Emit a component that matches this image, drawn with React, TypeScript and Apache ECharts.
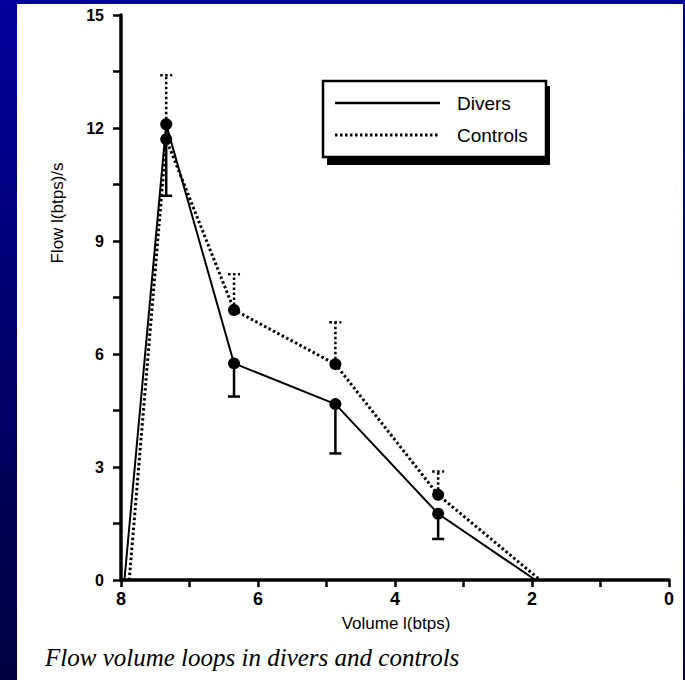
import React, { useEffect, useRef } from "react";
import * as echarts from "echarts";

// Volume (l btps) and Flow (l btps / s)
const diversVolume = [7.95, 7.34, 6.35, 4.87, 3.37, 1.95];
const diversFlow = [0, 12.1, 5.75, 4.67, 1.76, 0];
const controlsVolume = [7.88, 7.34, 6.35, 4.87, 3.37, 1.88];
const controlsFlow = [0, 11.7, 7.17, 5.73, 2.26, 0];

// error bars: [volume, mean, whisker end]
const diversErrVolume = [7.34, 6.35, 4.87, 3.37];
const diversErrMean = [12.1, 5.75, 4.67, 1.76];
const diversErrEnd = [10.2, 4.87, 3.36, 1.09];
const controlsErrVolume = [7.34, 6.35, 4.87, 3.37];
const controlsErrMean = [11.7, 7.17, 5.73, 2.26];
const controlsErrEnd = [13.4, 8.12, 6.84, 2.88];

const yTickLabels = [0, 3, 6, 9, 12, 15];
const xTickLabels = [0, 2, 4, 6, 8];

const seriesNames = ["Divers", "Controls"];

export default function App() {
  const ref = useRef<HTMLDivElement>(null);

  useEffect(() => {
    const chart = echarts.init(ref.current!, null, { renderer: "svg" });

    const errRender = (dash: number[] | null) => (params: any, api: any) => {
      const x = api.value(0);
      const p0 = api.coord([x, api.value(1)]);
      const p1 = api.coord([x, api.value(2)]);
      const style: any = { stroke: "#000", lineWidth: 2.5 };
      if (dash) style.lineDash = dash;
      return {
        type: "group",
        children: [
          { type: "line", shape: { x1: p0[0], y1: p0[1], x2: p1[0], y2: p1[1] }, style },
          { type: "line", shape: { x1: p1[0] - 6, y1: p1[1], x2: p1[0] + 6, y2: p1[1] }, style },
        ],
      };
    };

    const font = "'Liberation Sans', Arial, sans-serif";

    chart.setOption({
      animation: false,
      backgroundColor: new echarts.graphic.LinearGradient(0, 0, 0, 1, [
        { offset: 0, color: "#00009c" },
        { offset: 1, color: "#000040" },
      ]),
      grid: { left: 121, right: 16, top: 15, bottom: 100, containLabel: false },
      xAxis: {
        type: "value",
        inverse: true,
        min: 0,
        max: 8,
        interval: 1,
        axisLine: { show: true, onZero: false, lineStyle: { color: "#000", width: 3.5 } },
        axisTick: { show: true, length: 7, lineStyle: { color: "#000", width: 2.5 } },
        splitLine: { show: false },
        axisLabel: {
          color: "#000",
          fontFamily: font,
          fontWeight: "bold",
          fontSize: 18,
          margin: 10,
          formatter: (v: number) => (xTickLabels.includes(v) ? String(v) : ""),
        },
      },
      yAxis: {
        type: "value",
        position: "left",
        min: 0,
        max: 15,
        interval: 1.5,
        axisLine: { show: true, onZero: false, lineStyle: { color: "#000", width: 3.5 } },
        axisTick: { show: true, length: 8, lineStyle: { color: "#000", width: 2.5 } },
        splitLine: { show: false },
        axisLabel: {
          color: "#000",
          fontFamily: font,
          fontWeight: "bold",
          fontSize: 16,
          margin: 17,
          formatter: (v: number) => (yTickLabels.includes(v) ? String(v) : ""),
        },
      },
      graphic: [
        {
          type: "rect",
          z: -10,
          silent: true,
          shape: { x: 17, y: 4, width: 666, height: 676 },
          style: { fill: "#fff" },
        },
        {
          type: "text",
          x: 57,
          y: 213,
          rotation: Math.PI / 2,
          style: {
            text: "Flow l(btps)/s",
            fill: "#000",
            font: `17px ${font}`,
            align: "center",
            verticalAlign: "middle",
          },
        },
        {
          type: "text",
          x: 396,
          y: 623,
          style: {
            text: "Volume l(btps)",
            fill: "#000",
            font: `17px ${font}`,
            align: "center",
            verticalAlign: "middle",
          },
        },
        {
          type: "text",
          x: 45,
          y: 657,
          style: {
            text: "Flow volume loops in divers and controls",
            fill: "#000",
            font: `italic 25px 'Liberation Serif', 'DejaVu Serif', serif`,
            align: "left",
            verticalAlign: "middle",
          },
        },
        // legend box
        { type: "rect", shape: { x: 327, y: 86, width: 223, height: 79 }, style: { fill: "#000" }, z: 20 },
        { type: "rect", shape: { x: 323, y: 81, width: 223, height: 76 }, style: { fill: "#fff", stroke: "#000", lineWidth: 2.5 }, z: 21 },
        { type: "line", shape: { x1: 335, y1: 103, x2: 440, y2: 103 }, style: { stroke: "#000", lineWidth: 2.5 }, z: 22 },
        { type: "line", shape: { x1: 335, y1: 135, x2: 440, y2: 135 }, style: { stroke: "#000", lineWidth: 3, lineDash: [2.5, 2.5] }, z: 22 },
        {
          type: "text", x: 457, y: 103, z: 22,
          style: { text: seriesNames[0], fill: "#000", font: `19px ${font}`, verticalAlign: "middle" },
        },
        {
          type: "text", x: 457, y: 135, z: 22,
          style: { text: seriesNames[1], fill: "#000", font: `19px ${font}`, verticalAlign: "middle" },
        },
      ],
      series: [
        {
          name: seriesNames[0],
          type: "line",
          data: diversVolume.map((v, i) => [v, diversFlow[i]]),
          lineStyle: { color: "#000", width: 2 },
          itemStyle: { color: "#000" },
          symbol: (val: number[]) => (val[1] === 0 ? "none" : "circle"),
          symbolSize: 12,
          z: 5,
        },
        {
          name: seriesNames[1],
          type: "line",
          data: controlsVolume.map((v, i) => [v, controlsFlow[i]]),
          lineStyle: { color: "#000", width: 3, type: [2.5, 2.5] },
          itemStyle: { color: "#000" },
          symbol: (val: number[]) => (val[1] === 0 ? "none" : "circle"),
          symbolSize: 12,
          z: 5,
        },
        {
          name: seriesNames[0] + " SD",
          type: "custom",
          renderItem: errRender(null),
          data: diversErrVolume.map((v, i) => [v, diversErrMean[i], diversErrEnd[i]]),
          z: 3,
        },
        {
          name: seriesNames[1] + " SD",
          type: "custom",
          renderItem: errRender([2.5, 2.5]),
          data: controlsErrVolume.map((v, i) => [v, controlsErrMean[i], controlsErrEnd[i]]),
          z: 3,
        },
      ],
    });

    return () => chart.dispose();
  }, []);

  return (
    <div
      ref={ref}
      style={{ position: "fixed", left: 0, top: 0, width: 685, height: 680 }}
    />
  );
}
